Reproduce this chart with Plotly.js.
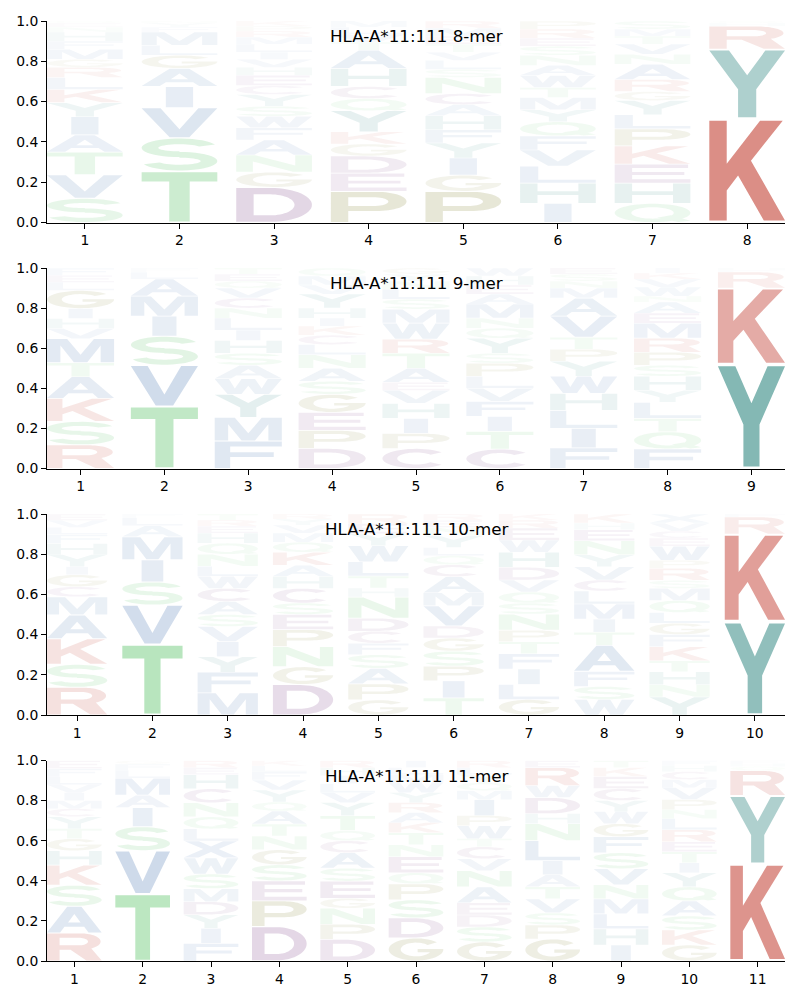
<!DOCTYPE html>
<html>
<head>
<meta charset="utf-8">
<script src="https://cdn.plot.ly/plotly-3.0.1.min.js"></script>
<style>html,body{margin:0;padding:0;background:#fff}#chart{width:800px;height:1000px}</style>
</head>
<body>
<div id="chart"></div>
<script>
// ---------------- data ----------------
const alleleName = 'HLA-A*11:111';
const merLabels = ['8-mer', '9-mer', '10-mer', '11-mer'];
const yTickVals = [0, 0.2, 0.4, 0.6, 0.8, 1.0];
const yTickText = ['0.0', '0.2', '0.4', '0.6', '0.8', '1.0'];

// each position: stack from bottom to top, [residue, probability]
const logo8 = [
  [['S',.12],['V',.117],['T',.113],['A',.085],['I',.09],['Y',.07],['K',.065],['L',.06],['R',.05],['G',.04],['M',.05],['F',.04],['H',.045],['N',.025],['E',.02],['Q',.01]],
  [['T',.255],['S',.165],['V',.15],['I',.105],['A',.09],['G',.065],['L',.05],['M',.065],['F',.025],['Y',.02],['N',.01]],
  [['D',.175],['G',.075],['N',.085],['A',.075],['F',.06],['W',.057],['S',.05],['Y',.058],['C',.045],['E',.05],['H',.04],['V',.04],['I',.035],['L',.04],['M',.035],['R',.03],['P',.025],['K',.025]],
  [['P',.155],['E',.09],['D',.085],['G',.06],['K',.06],['Y',.105],['Q',.06],['C',.06],['H',.09],['A',.09],['T',.04],['V',.04],['L',.035],['M',.03]],
  [['P',.155],['G',.08],['I',.085],['Y',.075],['F',.065],['H',.07],['A',.055],['C',.055],['N',.08],['S',.04],['L',.045],['V',.04],['T',.04],['E',.04],['M',.04],['R',.035]],
  [['I',.095],['H',.1],['L',.085],['V',.08],['F',.07],['Q',.07],['Y',.06],['M',.06],['T',.05],['W',.06],['A',.05],['N',.05],['S',.045],['E',.04],['R',.045],['P',.04]],
  [['Q',.095],['H',.1],['E',.095],['K',.09],['P',.085],['L',.07],['Y',.07],['G',.045],['R',.06],['A',.075],['N',.05],['V',.05],['T',.04],['M',.035],['S',.04]],
  [['K',.515],['Y',.345],['R',.115],['H',.015],['Q',.01]]
];
const logo9 = [
  [['R',.118],['S',.117],['K',.115],['A',.108],['T',.07],['M',.12],['V',.05],['H',.05],['I',.05],['G',.09],['L',.04],['E',.035],['F',.037]],
  [['T',.31],['V',.205],['S',.145],['I',.1],['M',.1],['A',.085],['L',.035],['F',.02]],
  [['F',.137],['M',.118],['Y',.115],['W',.078],['A',.067],['S',.06],['H',.063],['I',.052],['L',.06],['N',.05],['C',.05],['V',.05],['Q',.035],['E',.035],['T',.03]],
  [['D',.1],['P',.09],['E',.09],['G',.09],['S',.065],['A',.065],['N',.068],['L',.05],['C',.047],['K',.045],['I',.04],['H',.05],['Y',.07],['V',.045],['M',.045],['Q',.04]],
  [['C',.1],['P',.075],['I',.075],['H',.075],['V',.065],['E',.04],['A',.07],['T',.075],['R',.07],['W',.08],['M',.07],['S',.05],['L',.05],['N',.04],['Y',.035],['G',.03]],
  [['C',.097],['T',.088],['I',.075],['F',.075],['V',.065],['L',.06],['P',.065],['S',.05],['Y',.075],['Q',.05],['N',.05],['M',.07],['A',.05],['E',.045],['H',.045],['W',.04]],
  [['F',.103],['I',.097],['L',.09],['H',.085],['W',.085],['Y',.075],['P',.06],['T',.06],['V',.105],['A',.09],['M',.05],['N',.035],['S',.035],['E',.03]],
  [['F',.098],['Q',.085],['T',.067],['L',.08],['Y',.06],['H',.07],['S',.055],['P',.065],['R',.07],['M',.075],['E',.05],['A',.055],['N',.03],['W',.045],['V',.04],['K',.03],['I',.025]],
  [['Y',.52],['K',.38],['R',.08],['F',.01],['H',.01]]
];
const logo10 = [
  [['R',.138],['S',.114],['K',.128],['A',.118],['M',.09],['C',.05],['G',.06],['I',.04],['Y',.06],['H',.055],['F',.045],['L',.035],['V',.035],['E',.032]],
  [['T',.352],['V',.195],['S',.115],['I',.11],['M',.115],['A',.055],['L',.04],['F',.018]],
  [['M',.11],['F',.103],['Y',.077],['I',.075],['V',.075],['S',.06],['A',.065],['C',.065],['W',.06],['L',.05],['N',.06],['Q',.055],['H',.05],['E',.035],['R',.03],['T',.03]],
  [['D',.152],['G',.088],['N',.1],['P',.085],['E',.075],['S',.057],['C',.073],['H',.06],['A',.055],['K',.065],['Q',.05],['M',.045],['V',.04],['Y',.03],['R',.025]],
  [['G',.075],['P',.08],['A',.077],['S',.068],['F',.057],['C',.06],['D',.065],['N',.105],['H',.045],['T',.06],['L',.07],['W',.08],['Y',.06],['E',.05],['R',.048]],
  [['T',.085],['I',.085],['P',.073],['S',.075],['G',.065],['D',.06],['V',.1],['M',.065],['A',.08],['C',.06],['Q',.045],['L',.04],['Y',.06],['N',.04],['E',.035],['R',.032]],
  [['G',.077],['L',.075],['I',.077],['F',.076],['T',.06],['P',.057],['N',.08],['S',.055],['Q',.055],['V',.06],['D',.063],['H',.075],['W',.06],['E',.06],['R',.04],['K',.03]],
  [['W',.077],['S',.065],['F',.075],['A',.13],['T',.065],['I',.065],['M',.075],['L',.065],['C',.055],['V',.065],['Y',.06],['N',.07],['E',.055],['H',.033],['K',.045]],
  [['Y',.09],['N',.06],['H',.065],['T',.055],['K',.07],['F',.06],['G',.057],['L',.053],['Q',.06],['M',.06],['S',.04],['R',.06],['P',.04],['W',.07],['E',.04],['C',.035],['V',.04],['X',.045]],
  [['Y',.465],['K',.435],['R',.085],['F',.015]]
];
const logo11 = [
  [['R',.14],['A',.133],['S',.105],['K',.1],['H',.072],['G',.06],['T',.05],['Y',.06],['C',.04],['M',.04],['I',.04],['V',.04],['L',.04],['F',.04],['E',.04]],
  [['T',.335],['V',.215],['S',.12],['I',.095],['A',.062],['M',.085],['L',.04],['F',.03],['G',.018]],
  [['F',.088],['I',.075],['Y',.068],['D',.065],['M',.065],['S',.073],['W',.08],['X',.085],['L',.06],['Q',.06],['N',.07],['C',.07],['H',.07],['E',.035],['R',.035]],
  [['D',.172],['P',.128],['E',.1],['S',.08],['G',.075],['N',.068],['T',.06],['A',.065],['Q',.045],['Y',.06],['V',.05],['F',.04],['L',.03],['K',.027]],
  [['D',.108],['P',.075],['N',.08],['G',.05],['E',.085],['S',.065],['A',.077],['C',.06],['Q',.05],['T',.075],['Y',.065],['V',.05],['L',.045],['I',.04],['H',.04],['R',.035]],
  [['G',.115],['D',.1],['S',.09],['P',.08],['Q',.055],['E',.08],['N',.06],['T',.06],['K',.05],['A',.05],['R',.05],['Y',.05],['W',.05],['M',.04],['L',.035],['I',.035]],
  [['G',.095],['S',.075],['D',.06],['E',.06],['A',.08],['N',.08],['V',.06],['C',.06],['T',.04],['W',.065],['P',.05],['I',.08],['M',.045],['Q',.04],['Y',.04],['L',.035],['R',.035]],
  [['G',.11],['P',.07],['S',.06],['V',.07],['T',.06],['A',.06],['I',.07],['L',.1],['N',.085],['H',.05],['D',.08],['W',.06],['R',.09],['E',.035]],
  [['I',.08],['H',.08],['L',.075],['M',.075],['N',.07],['V',.08],['S',.08],['F',.08],['G',.065],['W',.06],['Y',.055],['C',.06],['E',.06],['K',.045],['T',.035]],
  [['G',.08],['K',.075],['S',.07],['A',.075],['Q',.07],['Y',.07],['I',.05],['T',.055],['E',.05],['R',.06],['L',.055],['N',.045],['P',.05],['V',.06],['M',.04],['C',.04],['H',.03],['F',.025]],
  [['K',.485],['Y',.34],['R',.125],['Q',.02],['H',.015],['F',.015]]
];
const logos = [logo8, logo9, logo10, logo11];

// ---------------- style ----------------
const BLUE = [26,84,157], GREEN = [55,182,70], RED = [185,35,20],
      TEAL = [20,118,112], PURPLE = [96,26,108], OLIVE = [100,100,0];
const residueColor = {
  A:BLUE, V:BLUE, L:BLUE, I:BLUE, M:BLUE, F:BLUE, W:BLUE, X:BLUE,
  S:GREEN, T:GREEN, N:GREEN, Q:GREEN,
  K:RED, R:RED,
  Y:TEAL, H:TEAL,
  D:PURPLE, E:PURPLE, C:PURPLE,
  P:OLIVE, G:OLIVE
};

// glyph outlines in a unit box (x: 0..1 left->right, y: 0..1 bottom->top)
function ell(cx, cy, rx, ry, a0, a1, n) {
  const pts = [];
  for (let i = 0; i <= n; i++) {
    const a = (a0 + (a1 - a0) * i / n) * Math.PI / 180;
    pts.push([cx + rx * Math.cos(a), cy + ry * Math.sin(a)]);
  }
  return pts;
}
function sGlyph() {
  const uo = (a) => [0.5 + 0.5 * Math.cos(a*Math.PI/180), 0.71 + 0.29 * Math.sin(a*Math.PI/180)];
  const ui = (a) => [0.5 + 0.28 * Math.cos(a*Math.PI/180), 0.71 + 0.11 * Math.sin(a*Math.PI/180)];
  const lo = (a) => [0.5 + 0.5 * Math.cos(a*Math.PI/180), 0.29 + 0.29 * Math.sin(a*Math.PI/180)];
  const li = (a) => [0.5 + 0.28 * Math.cos(a*Math.PI/180), 0.29 + 0.11 * Math.sin(a*Math.PI/180)];
  const pts = [];
  const run = (f, a0, a1, n) => { for (let i = 0; i <= n; i++) pts.push(f(a0 + (a1 - a0) * i / n)); };
  run(uo, 20, 270, 30);
  run(li, 90, -160, 30);
  run(lo, -160, 90, 30);
  run(ui, 270, 20, 30);
  return [{p: pts}];
}
const GLYPHS = {
  A: [{p:[[0,0],[0.37,1],[0.63,1],[1,0],[0.76,0],[0.68,0.22],[0.32,0.22],[0.24,0]]},
      {p:[[0.385,0.39],[0.615,0.39],[0.5,0.72]], hole:true}],
  C: [{p:[...ell(.5,.5,.5,.5,40,320,40), ...ell(.5,.5,.28,.31,320,40,40)]}],
  D: [{p:[[0,0], ...ell(.45,.5,.55,.5,-90,90,30), [0,1]]},
      {p:[[0.23,0.19], ...ell(.45,.5,.32,.31,-90,90,30), [0.23,0.81]], hole:true}],
  E: [{p:[[0,0],[1,0],[1,0.19],[0.23,0.19],[0.23,0.42],[0.92,0.42],[0.92,0.59],[0.23,0.59],[0.23,0.81],[0.97,0.81],[0.97,1],[0,1]]}],
  F: [{p:[[0,0],[0.23,0],[0.23,0.42],[0.88,0.42],[0.88,0.6],[0.23,0.6],[0.23,0.81],[1,0.81],[1,1],[0,1]]}],
  G: [{p:[...ell(.5,.5,.5,.5,40,355,40), [1,0.52],[0.53,0.52],[0.53,0.37], ...ell(.5,.5,.28,.31,335,40,40)]}],
  H: [{p:[[0,0],[0.23,0],[0.23,0.41],[0.77,0.41],[0.77,0],[1,0],[1,1],[0.77,1],[0.77,0.6],[0.23,0.6],[0.23,1],[0,1]]}],
  I: [{p:[[0.32,0],[0.68,0],[0.68,1],[0.32,1]]}],
  K: [{p:[[0,0],[0.23,0],[0.23,0.3],[0.38,0.45],[0.72,0],[1,0],[0.55,0.6],[0.97,1],[0.67,1],[0.23,0.57],[0.23,1],[0,1]]}],
  L: [{p:[[0,0],[1,0],[1,0.19],[0.24,0.19],[0.24,1],[0,1]]}],
  M: [{p:[[0,0],[0.2,0],[0.2,0.72],[0.4,0],[0.6,0],[0.8,0.72],[0.8,0],[1,0],[1,1],[0.7,1],[0.5,0.32],[0.3,1],[0,1]]}],
  N: [{p:[[0,0],[0.22,0],[0.22,0.62],[0.75,0],[1,0],[1,1],[0.78,1],[0.78,0.38],[0.25,1],[0,1]]}],
  P: [{p:[[0,0],[0.23,0],[0.23,0.36], ...ell(.6,.68,.4,.32,-90,90,30), [0,1]]},
      {p:[[0.23,0.53], ...ell(.56,.675,.2,.145,-90,90,20), [0.23,0.82]], hole:true}],
  Q: [{p: ell(.5,.5,.5,.5,0,360,64)},
      {p: ell(.5,.5,.28,.31,0,360,64), hole:true},
      {p:[[0.56,0.24],[0.74,0.37],[1,0.08],[0.84,0]]}],
  R: [{p:[[0,0],[0.23,0],[0.23,0.4],[0.43,0.4],[0.72,0],[1,0], ...ell(.62,.7,.36,.3,-58,90,30), [0,1]]},
      {p:[[0.23,0.56], ...ell(.58,.7,.17,.14,-90,90,20), [0.23,0.84]], hole:true}],
  S: sGlyph(),
  T: [{p:[[0.365,0],[0.635,0],[0.635,0.81],[1,0.81],[1,1],[0,1],[0,0.81],[0.365,0.81]]}],
  V: [{p:[[0,1],[0.37,0],[0.63,0],[1,1],[0.75,1],[0.5,0.28],[0.25,1]]}],
  W: [{p:[[0,1],[0.19,0],[0.4,0],[0.5,0.55],[0.6,0],[0.81,0],[1,1],[0.79,1],[0.7,0.36],[0.6,1],[0.4,1],[0.3,0.36],[0.21,1]]}],
  X: [{p:[[0,0],[0.27,0],[0.5,0.34],[0.73,0],[1,0],[0.64,0.52],[0.98,1],[0.72,1],[0.5,0.68],[0.28,1],[0.02,1],[0.36,0.52]]}],
  Y: [{p:[[0.38,0],[0.62,0],[0.62,0.42],[1,1],[0.74,1],[0.5,0.63],[0.26,1],[0,1],[0.38,0.42]]}]
};
function signedArea(pts) {
  let a = 0;
  for (let i = 0; i < pts.length; i++) {
    const [x1, y1] = pts[i], [x2, y2] = pts[(i + 1) % pts.length];
    a += x1 * y2 - x2 * y1;
  }
  return a / 2;
}
// normalise orientation: solids counter-clockwise, holes clockwise (nonzero rule)
for (const k in GLYPHS) {
  GLYPHS[k] = GLYPHS[k].map(c => {
    const pos = signedArea(c.p) > 0;
    const want = !c.hole;
    return {p: pos === want ? c.p : c.p.slice().reverse(), hole: c.hole};
  });
}

const LETTER_WIDTH = 0.8, VPAD = 0.02;
function glyphPath(letter, xc, y0, h) {
  const pad = VPAD * h, hh = h - 2 * pad;
  let d = '';
  for (const c of GLYPHS[letter]) {
    c.p.forEach((pt, i) => {
      const x = xc + (pt[0] - 0.5) * LETTER_WIDTH;
      const y = y0 + pad + pt[1] * hh;
      d += (i === 0 ? 'M' : 'L') + x.toFixed(4) + ',' + y.toFixed(5);
    });
    d += 'Z';
  }
  return d;
}

// ---------------- layout ----------------
const plotTop = 21, plotBottom = 961, plotH = plotBottom - plotTop;
const panelPx = [[21, 222.5], [268, 468.5], [514, 715], [760.5, 961]];
const traces = [], shapes = [], annotations = [];
const layout = {
  width: 800, height: 1000,
  margin: {l: 47, r: 15, t: plotTop, b: 1000 - plotBottom, pad: 0},
  paper_bgcolor: '#ffffff', plot_bgcolor: '#ffffff',
  showlegend: false, hovermode: false,
  font: {family: 'DejaVu Sans, sans-serif', size: 13.9, color: '#000000'}
};

logos.forEach((logo, k) => {
  const sfx = k === 0 ? '' : String(k + 1);
  const xa = 'x' + sfx, ya = 'y' + sfx;
  const n = logo.length;
  const positions = logo.map((_, i) => i + 1);
  const [pt, pb] = panelPx[k];
  layout['xaxis' + sfx] = {
    domain: [0, 1], anchor: ya, range: [0.6, n + 0.4],
    tickmode: 'array', tickvals: positions, ticktext: positions.map(String),
    showline: true, linecolor: '#000', linewidth: 1,
    ticks: 'outside', ticklen: 5, tickwidth: 1, tickcolor: '#000',
    showgrid: false, zeroline: false, fixedrange: true,
    tickfont: {family: 'DejaVu Sans, sans-serif', size: 13.9, color: '#000'}
  };
  layout['yaxis' + sfx] = {
    domain: [(plotBottom - pb) / plotH, (plotBottom - pt) / plotH], anchor: xa, range: [0, 1],
    tickmode: 'array', tickvals: yTickVals, ticktext: yTickText,
    showline: true, linecolor: '#000', linewidth: 1,
    ticks: 'outside', ticklen: 5, tickwidth: 1, tickcolor: '#000',
    showgrid: false, zeroline: false, fixedrange: true,
    tickfont: {family: 'DejaVu Sans, sans-serif', size: 13.9, color: '#000'}
  };
  // invisible carrier trace so the subplot exists
  traces.push({
    type: 'scatter', x: positions, y: logo.map(col => col.reduce((s, r) => s + r[1], 0)),
    xaxis: xa, yaxis: ya, mode: 'none', hoverinfo: 'skip', showlegend: false
  });
  logo.forEach((col, i) => {
    let base = 0;
    col.forEach(([res, p]) => {
      const c = residueColor[res] || BLUE;
      shapes.push({
        type: 'path', xref: xa, yref: ya, layer: 'below',
        path: glyphPath(res, i + 1, base, p),
        fillcolor: `rgba(${c[0]},${c[1]},${c[2]},${Math.min(1, p).toFixed(3)})`,
        fillrule: 'nonzero',
        line: {width: 0}
      });
      base += p;
    });
  });
  annotations.push({
    text: alleleName + ' ' + merLabels[k],
    xref: xa + ' domain', yref: ya + ' domain', x: 0.5, y: 1,
    xanchor: 'center', yanchor: 'middle', yshift: -15, showarrow: false,
    font: {family: 'DejaVu Sans, sans-serif', size: 16.7, color: '#000'}
  });
});
layout.shapes = shapes;
layout.annotations = annotations;

Plotly.newPlot('chart', traces, layout, {staticPlot: true, displayModeBar: false});
</script>
</body>
</html>
